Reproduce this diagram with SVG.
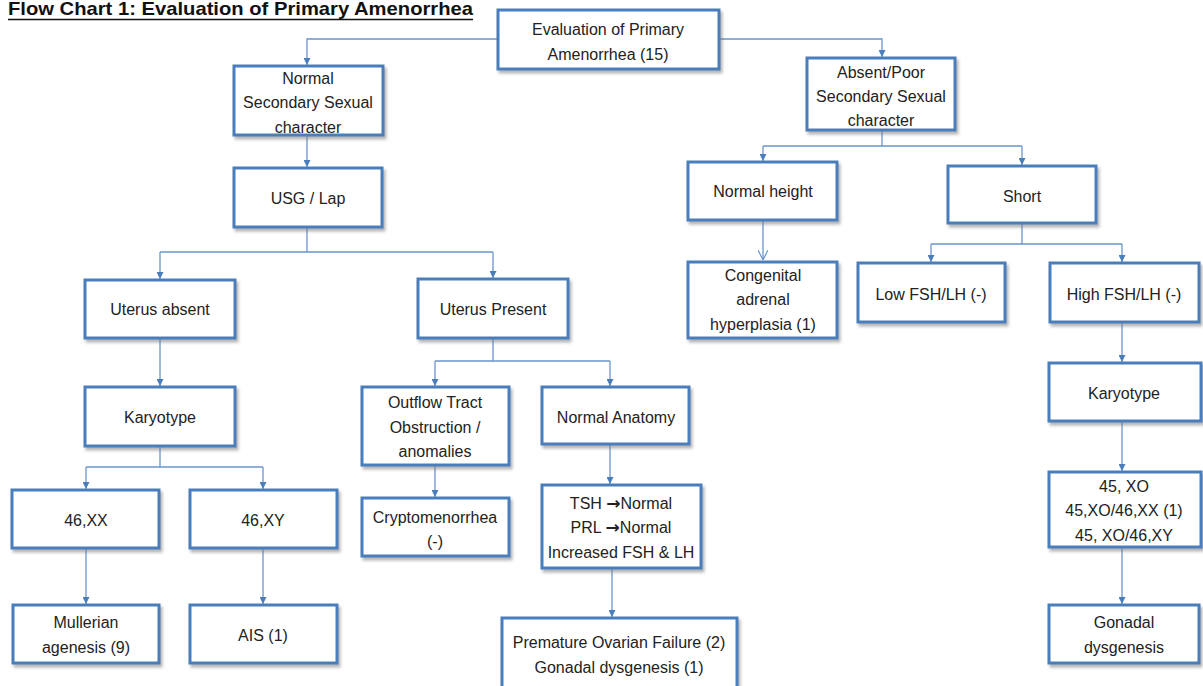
<svg xmlns="http://www.w3.org/2000/svg" width="1203" height="686" viewBox="0 0 1203 686">
<style>
.box{fill:#fff;stroke:#4a7ebb;stroke-width:3;filter:url(#sh)}
.t{font-family:"Liberation Sans",Arial,sans-serif;font-size:16px;fill:#222;text-anchor:middle;dominant-baseline:central}
.ar{font-family:"DejaVu Sans",sans-serif;font-size:17px;font-weight:bold}
.c{fill:none;stroke:#6a95cc;stroke-width:1.3}
.title{font-family:"Liberation Sans",Arial,sans-serif;font-size:19px;font-weight:bold;fill:#111}
</style>
<defs>
<filter id="sh" x="-10%" y="-10%" width="130%" height="140%">
<feDropShadow dx="2" dy="3" stdDeviation="1.5" flood-color="#777" flood-opacity="0.55"/>
</filter>
<marker id="a" viewBox="0 0 10 10" refX="10" refY="5" markerWidth="7" markerHeight="7" markerUnits="userSpaceOnUse" orient="auto">
<path d="M0,0 L10,5 L0,10 z" fill="#4a7ebb"/>
</marker>
<marker id="o" viewBox="0 0 10 10" refX="10" refY="5" markerWidth="10" markerHeight="10" markerUnits="userSpaceOnUse" orient="auto">
<path d="M0,0 L10,5 L0,10" fill="none" stroke="#6a95cc" stroke-width="1.2"/>
</marker>
</defs>
<rect width="1203" height="686" fill="#fff"/>
<text class="title" x="8" y="15" textLength="465" lengthAdjust="spacingAndGlyphs">Flow Chart 1: Evaluation of Primary Amenorrhea</text>
<line x1="8" y1="19.5" x2="473" y2="19.5" stroke="#111" stroke-width="1.6"/>

<g id="connectors">
<path class="c" d="M498,39 H307 V65" marker-end="url(#a)"/>
<path class="c" d="M719,39 H882 V57" marker-end="url(#a)"/>
<path class="c" d="M307,135 V167" marker-end="url(#a)"/>
<path class="c" d="M307,227 V252 M160,252 H493"/>
<path class="c" d="M160,252 V279" marker-end="url(#a)"/>
<path class="c" d="M493,252 V278" marker-end="url(#a)"/>
<path class="c" d="M160,338 V386" marker-end="url(#a)"/>
<path class="c" d="M160,446 V467 M86,467 H263"/>
<path class="c" d="M86,467 V489" marker-end="url(#a)"/>
<path class="c" d="M263,467 V489" marker-end="url(#a)"/>
<path class="c" d="M86,548 V604" marker-end="url(#a)"/>
<path class="c" d="M263,548 V604" marker-end="url(#a)"/>
<path class="c" d="M493,338 V361 M435,361 H610"/>
<path class="c" d="M435,361 V386" marker-end="url(#a)"/>
<path class="c" d="M610,361 V386" marker-end="url(#a)"/>
<path class="c" d="M435,465 V497" marker-end="url(#a)"/>
<path class="c" d="M610,444 V484" marker-end="url(#a)"/>
<path class="c" d="M612,568 V617" marker-end="url(#a)"/>
<path class="c" d="M882,130 V146 M763,146 H1022"/>
<path class="c" d="M763,146 V161" marker-end="url(#a)"/>
<path class="c" d="M1022,146 V165" marker-end="url(#a)"/>
<path class="c" d="M763,220 V260" marker-end="url(#o)"/>
<path class="c" d="M1022,223 V244 M931,244 H1122"/>
<path class="c" d="M931,244 V262" marker-end="url(#a)"/>
<path class="c" d="M1122,244 V262" marker-end="url(#a)"/>
<path class="c" d="M1122,322 V362" marker-end="url(#a)"/>
<path class="c" d="M1122,421 V471" marker-end="url(#a)"/>
<path class="c" d="M1122,547 V604" marker-end="url(#a)"/>
</g>

<g id="root"><rect class="box" x="498" y="10" width="221" height="59"/>
<text class="t" x="608" y="29">Evaluation of Primary</text><text class="t" x="608" y="54">Amenorrhea (15)</text></g>

<g id="normal-ssc"><rect class="box" x="234" y="66" width="149" height="69"/>
<text class="t" x="308" y="78">Normal</text><text class="t" x="308" y="102">Secondary Sexual</text><text class="t" x="308" y="127">character</text></g>

<g id="usg"><rect class="box" x="234" y="168" width="148" height="59"/>
<text class="t" x="308" y="198">USG / Lap</text></g>

<g id="uterus-absent"><rect class="box" x="85" y="280" width="150" height="58"/>
<text class="t" x="160" y="309">Uterus absent</text></g>

<g id="uterus-present"><rect class="box" x="418" y="279" width="150" height="59"/>
<text class="t" x="493" y="309">Uterus Present</text></g>

<g id="karyotype-left"><rect class="box" x="85" y="387" width="150" height="59"/>
<text class="t" x="160" y="417">Karyotype</text></g>

<g id="xx"><rect class="box" x="12" y="490" width="147" height="58"/>
<text class="t" x="86" y="520">46,XX</text></g>

<g id="xy"><rect class="box" x="190" y="490" width="147" height="58"/>
<text class="t" x="263" y="520">46,XY</text></g>

<g id="mullerian"><rect class="box" x="13" y="605" width="146" height="58"/>
<text class="t" x="86" y="622">Mullerian</text><text class="t" x="86" y="647">agenesis (9)</text></g>

<g id="ais"><rect class="box" x="190" y="605" width="147" height="58"/>
<text class="t" x="263" y="635">AIS (1)</text></g>

<g id="outflow"><rect class="box" x="362" y="387" width="147" height="78"/>
<text class="t" x="435" y="402">Outflow Tract</text><text class="t" x="435" y="427">Obstruction /</text><text class="t" x="435" y="451">anomalies</text></g>

<g id="normal-anatomy"><rect class="box" x="542" y="387" width="147" height="57"/>
<text class="t" x="616" y="417">Normal Anatomy</text></g>

<g id="crypto"><rect class="box" x="362" y="498" width="147" height="58"/>
<text class="t" x="435" y="517">Cryptomenorrhea</text><text class="t" x="435" y="541">(-)</text></g>

<g id="tsh"><rect class="box" x="542" y="485" width="159" height="83"/>
<text class="t" x="621" y="503">TSH <tspan class="ar">→</tspan>Normal</text><text class="t" x="621" y="527">PRL <tspan class="ar">→</tspan>Normal</text><text class="t" x="621" y="552">Increased FSH &amp; LH</text></g>

<g id="pof"><rect class="box" x="502" y="618" width="235" height="80"/>
<text class="t" x="619" y="642">Premature Ovarian Failure (2)</text><text class="t" x="619" y="667">Gonadal dysgenesis (1)</text></g>

<g id="absent-ssc"><rect class="box" x="807" y="58" width="148" height="72"/>
<text class="t" x="881" y="72">Absent/Poor</text><text class="t" x="881" y="96">Secondary Sexual</text><text class="t" x="881" y="120">character</text></g>

<g id="normal-height"><rect class="box" x="688" y="162" width="149" height="58"/>
<text class="t" x="763" y="191">Normal height</text></g>

<g id="short"><rect class="box" x="948" y="166" width="148" height="57"/>
<text class="t" x="1022" y="196">Short</text></g>

<g id="cah"><rect class="box" x="688" y="262" width="149" height="76"/>
<text class="t" x="763" y="275">Congenital</text><text class="t" x="763" y="299">adrenal</text><text class="t" x="763" y="324">hyperplasia (1)</text></g>

<g id="low-fsh"><rect class="box" x="858" y="263" width="147" height="59"/>
<text class="t" x="931" y="294">Low FSH/LH (-)</text></g>

<g id="high-fsh"><rect class="box" x="1050" y="263" width="149" height="59"/>
<text class="t" x="1124" y="294">High FSH/LH (-)</text></g>

<g id="karyotype-right"><rect class="box" x="1049" y="363" width="152" height="58"/>
<text class="t" x="1124" y="393">Karyotype</text></g>

<g id="xo"><rect class="box" x="1049" y="472" width="152" height="75"/>
<text class="t" x="1124" y="486">45, XO</text><text class="t" x="1124" y="510">45,XO/46,XX (1)</text><text class="t" x="1124" y="535">45, XO/46,XY</text></g>

<g id="gonadal"><rect class="box" x="1049" y="605" width="150" height="58"/>
<text class="t" x="1124" y="622">Gonadal</text><text class="t" x="1124" y="647">dysgenesis</text></g>
</svg>
